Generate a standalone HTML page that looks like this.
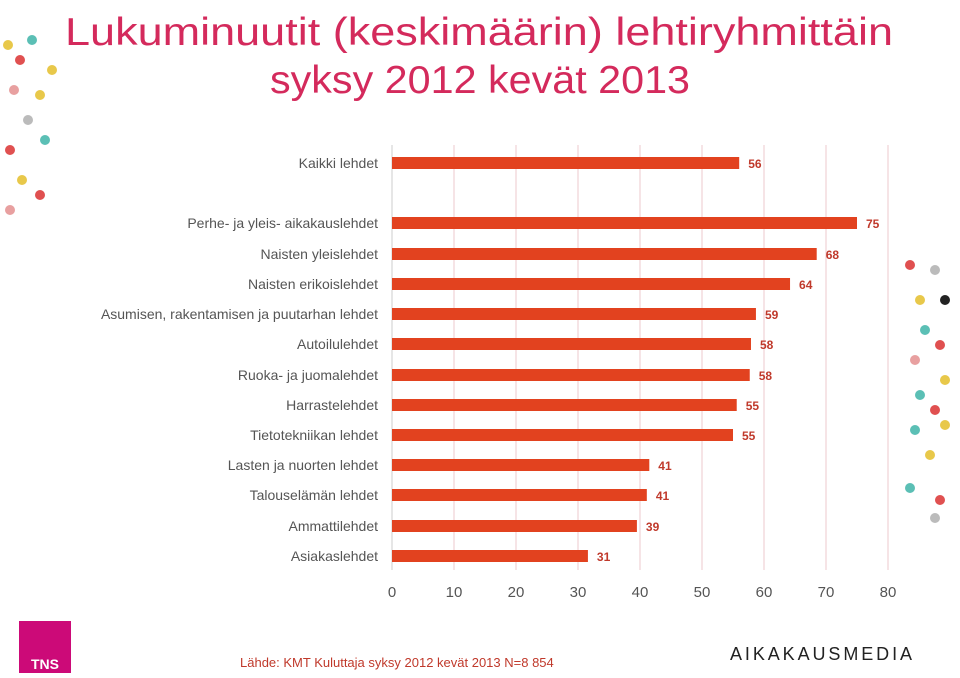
<!DOCTYPE html>
<html><head><meta charset="utf-8"><style>
body{margin:0;background:#fff;font-family:"Liberation Sans","DejaVu Sans",sans-serif}
#wrap{position:relative;width:960px;height:678px;overflow:hidden}
</style></head><body>
<div id="wrap">
<svg id="chart" width="960" height="678"></svg>
</div>
<script>
const categories=["Kaikki lehdet","Perhe- ja yleis- aikakauslehdet","Naisten yleislehdet","Naisten erikoislehdet","Asumisen, rakentamisen ja puutarhan lehdet","Autoilulehdet","Ruoka- ja juomalehdet","Harrastelehdet","Tietotekniikan lehdet","Lasten ja nuorten lehdet","Talouselämän lehdet","Ammattilehdet","Asiakaslehdet"];
const values=[56,75,68.5,64.2,58.7,57.9,57.7,55.6,55,41.5,41.1,39.5,31.6];
const valueLabels=["56","75","68","64","59","58","58","55","55","41","41","39","31"];
const ticks=[0,10,20,30,40,50,60,70,80];
const rowY=[163,223,254,284,314,344,375,405,435,465,495,526,556];
const NS="http://www.w3.org/2000/svg",svg=document.getElementById('chart');
const x0=392,x1=888,vmax=80;
const xs=v=>x0+(x1-x0)*v/vmax;
function el(t,a,txt){const e=document.createElementNS(NS,t);for(const k in a)e.setAttribute(k,a[k]);if(txt!=null)e.textContent=txt;svg.appendChild(e);return e;}
const dots=[[8,45,"#e8c84a"],[20,60,"#e05050"],[32,40,"#5bbfb5"],[14,90,"#e8a0a0"],[40,95,"#e8c84a"],[28,120,"#bbb"],[10,150,"#e05050"],[45,140,"#5bbfb5"],[22,180,"#e8c84a"],[40,195,"#e05050"],[10,210,"#e8a0a0"],[52,70,"#e8c84a"],[935,270,"#bbb"],[910,265,"#e05050"],[920,300,"#e8c84a"],[945,300,"#222"],[925,330,"#5bbfb5"],[940,345,"#e05050"],[915,360,"#e8a0a0"],[945,380,"#e8c84a"],[920,395,"#5bbfb5"],[935,410,"#e05050"],[915,430,"#5bbfb5"],[945,425,"#e8c84a"],[930,455,"#e8c84a"],[910,488,"#5bbfb5"],[940,500,"#e05050"],[935,518,"#bbb"]];
dots.forEach(d=>{const c=el('circle',{cx:d[0],cy:d[1],r:5,fill:d[2]});});
let t=el('text',{x:65,y:45,'font-size':39,fill:'#d42a5c',textLength:828,lengthAdjust:'spacingAndGlyphs'},'Lukuminuutit (keskimäärin) lehtiryhmittäin');

t=el('text',{x:270,y:93,'font-size':39,fill:'#d42a5c',textLength:420,lengthAdjust:'spacingAndGlyphs'},'syksy 2012 kevät 2013');

ticks.forEach(v=>{
 if(v>0){const g=el('line',{x1:xs(v),x2:xs(v),y1:145,y2:570,stroke:'#ecc8cc','stroke-width':1});}
 const l=el('text',{x:xs(v),y:597,'text-anchor':'middle','font-size':15,fill:'#555'},String(v));
 
});
const ax=el('line',{x1:x0,x2:x0,y1:145,y2:570,stroke:'#ccc'});
categories.forEach((c,i)=>{
 const y=rowY[i];
 const lab=el('text',{x:378,y:y+5,'text-anchor':'end','font-size':14,fill:'#555'},c);
 
 const b=el('rect',{x:x0,y:y-6,width:xs(values[i])-x0,height:12,fill:'#e2421f'});
 
 const v=el('text',{x:xs(values[i])+9,y:y+5,'font-size':12,'font-weight':'bold',fill:'#c0392b'},valueLabels[i]);
 
});
const logo=el('rect',{x:19,y:621,width:52,height:52,fill:'#cc0a78'});
t=el('text',{x:45,y:669,'text-anchor':'middle','font-size':14,'font-weight':'bold',fill:'#fff'},'TNS');
t=el('text',{x:240,y:667,'font-size':13,fill:'#c0392b'},'Lähde: KMT Kuluttaja syksy 2012 kevät 2013 N=8 854');
t=el('text',{x:730,y:660,'font-size':18,fill:'#222',textLength:182,lengthAdjust:'spacing'},'AIKAKAUSMEDIA');
</script>
</body></html>
